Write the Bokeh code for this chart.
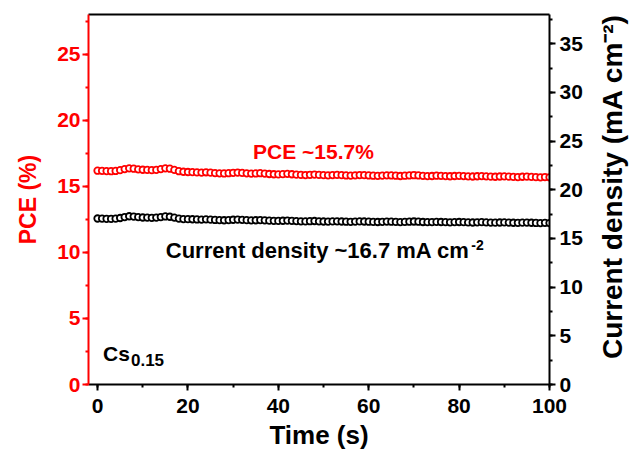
import math
from bokeh.plotting import figure
from bokeh.layouts import row
from bokeh.models import Range1d, LinearAxis, SingleIntervalTicker, FixedTicker, Label
from bokeh.embed import file_html
from bokeh.resources import INLINE

# Stability tracking at the maximum power point (Cs0.15 device)
time_s = list(range(0, 101))

pce = [
    16.18, 16.17, 16.15, 16.14, 16.16, 16.22, 16.30, 16.36, 16.33, 16.28,
    16.25, 16.24, 16.22, 16.24, 16.30, 16.36, 16.33, 16.24, 16.14, 16.10,
    16.08, 16.07, 16.05, 16.04, 16.06, 16.03, 16.00, 15.98, 15.97, 15.99,
    16.02, 16.04, 16.01, 15.98, 15.96, 15.97, 15.99, 15.96, 15.93, 15.91,
    15.90, 15.92, 15.94, 15.91, 15.88, 15.86, 15.85, 15.87, 15.89, 15.86,
    15.84, 15.83, 15.85, 15.86, 15.84, 15.82, 15.81, 15.83, 15.85, 15.84,
    15.82, 15.80, 15.79, 15.81, 15.83, 15.82, 15.80, 15.78, 15.80, 15.82,
    15.84, 15.82, 15.79, 15.77, 15.78, 15.80, 15.79, 15.77, 15.76, 15.78,
    15.79, 15.77, 15.75, 15.74, 15.76, 15.77, 15.75, 15.73, 15.72, 15.74,
    15.75, 15.73, 15.71, 15.70, 15.72, 15.73, 15.71, 15.69, 15.68, 15.70,
    15.68,
]

current_density = [
    17.05, 17.04, 17.02, 17.01, 17.03, 17.10, 17.20, 17.28, 17.25, 17.19,
    17.15, 17.14, 17.12, 17.14, 17.20, 17.26, 17.23, 17.14, 17.04, 16.99,
    16.98, 16.97, 16.95, 16.94, 16.96, 16.93, 16.90, 16.88, 16.87, 16.89,
    16.92, 16.94, 16.91, 16.88, 16.86, 16.87, 16.89, 16.86, 16.83, 16.81,
    16.80, 16.82, 16.84, 16.81, 16.78, 16.76, 16.75, 16.77, 16.79, 16.76,
    16.74, 16.73, 16.75, 16.76, 16.74, 16.72, 16.71, 16.73, 16.75, 16.74,
    16.72, 16.70, 16.69, 16.71, 16.73, 16.72, 16.70, 16.68, 16.70, 16.72,
    16.74, 16.72, 16.69, 16.67, 16.68, 16.70, 16.69, 16.67, 16.66, 16.68,
    16.69, 16.67, 16.65, 16.64, 16.66, 16.67, 16.65, 16.63, 16.62, 16.64,
    16.65, 16.63, 16.61, 16.60, 16.62, 16.63, 16.61, 16.59, 16.58, 16.60,
    16.58,
]

FONT = "Liberation Sans"
RED = "#FF0000"
BLACK = "#000000"

p = figure(
    width=594, height=454,
    output_backend="svg", toolbar_location=None,
    x_range=Range1d(-2, 100), y_range=Range1d(0, 28),
    x_axis_location=None, y_axis_location=None,
    min_border_left=88, min_border_right=45,
    min_border_top=14, min_border_bottom=70,
)
p.extra_y_ranges = {"jsc": Range1d(0, 38)}
p.outline_line_color = None
p.xgrid.visible = False
p.ygrid.visible = False
p.background_fill_color = "white"
p.border_fill_color = "white"


def style_axis(ax, color, tick_size, label_size):
    ax.axis_line_color = color
    ax.axis_line_width = 2
    ax.major_tick_line_color = color
    ax.minor_tick_line_color = color
    ax.major_tick_line_width = 2
    ax.minor_tick_line_width = 2
    ax.major_tick_out = 6
    ax.major_tick_in = 0
    ax.minor_tick_out = 3
    ax.minor_tick_in = 0
    ax.major_label_text_color = color
    ax.major_label_text_font = FONT
    ax.major_label_text_font_style = "bold"
    ax.major_label_text_font_size = tick_size
    ax.axis_label_text_color = color
    ax.axis_label_text_font = FONT
    ax.axis_label_text_font_style = "bold"
    ax.axis_label_text_font_size = label_size


# bottom: time
xaxis = LinearAxis(ticker=SingleIntervalTicker(interval=20, num_minor_ticks=2),
                   axis_label="Time (s)")
style_axis(xaxis, BLACK, "21px", "26px")
xaxis.major_label_standoff = 8
xaxis.axis_label_standoff = 4
p.add_layout(xaxis, "below")

# left: PCE
yaxis = LinearAxis(ticker=SingleIntervalTicker(interval=5, num_minor_ticks=2),
                   axis_label="PCE (%)")
style_axis(yaxis, RED, "21px", "23px")
yaxis.major_label_standoff = 2
yaxis.axis_label_standoff = 13
p.add_layout(yaxis, "left")

# right: current density ticks
raxis = LinearAxis(y_range_name="jsc",
                   ticker=SingleIntervalTicker(interval=5, num_minor_ticks=2))
style_axis(raxis, BLACK, "21px", "26px")
raxis.major_label_standoff = 4
p.add_layout(raxis, "right")

# top frame line
taxis = LinearAxis(ticker=FixedTicker(ticks=[]))
taxis.axis_line_color = BLACK
taxis.axis_line_width = 2
taxis.major_label_text_font_size = "0px"
taxis.major_tick_line_color = None
taxis.minor_tick_line_color = None
p.add_layout(taxis, "above")

# data
p.scatter(time_s, pce, size=6.5, marker="circle",
          fill_color="white", line_color=RED, line_width=1.8)
p.scatter(time_s, current_density, y_range_name="jsc", size=6.5, marker="circle",
          fill_color="white", line_color=BLACK, line_width=1.8)


def add_text(fig, x, y, text, size, color=BLACK, angle=0, align="left"):
    fig.add_layout(Label(x=x, y=y, text=text, text_font=FONT,
                         text_font_style="bold", text_font_size=size,
                         text_color=color, text_baseline="middle",
                         text_align=align, angle=angle))


add_text(p, 34.4, 17.65, "PCE ~15.7%", "21px", RED)
add_text(p, 15.1, 10.11, "Current density ~16.7 mA cm", "22px")
add_text(p, 82.7, 10.55, "-2", "14px")
add_text(p, 1.2, 2.35, "Cs", "21px")
add_text(p, 7.4, 1.82, "0.15", "17px")

# strip holding the right-hand axis title, reading upwards
side = figure(width=36, height=454, output_backend="svg", toolbar_location=None,
              x_range=Range1d(0, 1), y_range=Range1d(0, 1),
              x_axis_location=None, y_axis_location=None, min_border=0)
side.outline_line_color = None
side.xgrid.visible = False
side.ygrid.visible = False
side.border_fill_color = "white"
add_text(side, 0.5, 0.535, "Current density (mA cm\u207B\u00B2)", "28px",
         angle=math.pi / 2, align="center")

layout = row(p, side, spacing=0)
open("out.html", "w").write(file_html(layout, INLINE))
